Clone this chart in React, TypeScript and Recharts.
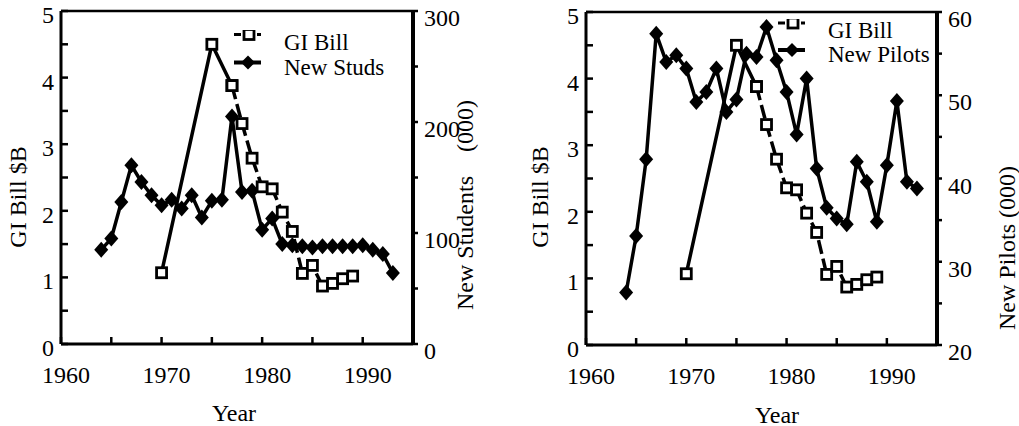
import { Legend, Line, LineChart, XAxis, YAxis } from 'recharts';

const FONT = "'Liberation Serif', 'Times New Roman', serif";

const years = [
  1964, 1965, 1966, 1967, 1968, 1969, 1970, 1971, 1972, 1973, 1974, 1975, 1976, 1977, 1978,
  1979, 1980, 1981, 1982, 1983, 1984, 1985, 1986, 1987, 1988, 1989, 1990, 1991, 1992, 1993,
];
// thousands
const newStuds = [
  85, 95, 128, 161, 146, 134, 125, 130, 122, 134, 114, 129, 130, 205, 137,
  138, 103, 113, 90, 89, 88, 87, 88, 88, 88, 88, 89, 85, 81, 64,
];
const newPilots = [
  26.3, 33.1, 42.3, 57.4, 54.0, 54.8, 53.2, 49.2, 50.4, 53.2, 48.0, 49.5, 55.0, 54.6, 58.2,
  54.2, 50.4, 45.3, 52.0, 41.2, 36.5, 35.2, 34.5, 42.0, 39.6, 34.8, 41.6, 49.3, 39.6, 38.8,
];
const giBillYears = [1970, 1975, 1977, 1978, 1979, 1980, 1981, 1982, 1983, 1984, 1985, 1986, 1987, 1988, 1989];
const giBill = [1.07, 4.5, 3.88, 3.31, 2.79, 2.36, 2.33, 1.98, 1.69, 1.06, 1.18, 0.87, 0.91, 0.98, 1.02];

const yearTicks = [1960, 1965, 1970, 1975, 1980, 1985, 1990];
const yearLabels = [1960, 1970, 1980, 1990];
const billTicks = [0, 0.5, 1, 1.5, 2, 2.5, 3, 3.5, 4, 4.5, 5];
const billLabels = [0, 1, 2, 3, 4, 5];
const studTicks = [0, 50, 100, 150, 200, 250, 300];
const studLabels = [0, 100, 200, 300];
const pilotTicks = [20, 25, 30, 35, 40, 45, 50, 55, 60];
const pilotLabels = [20, 30, 40, 50, 60];

// GI Bill is drawn solid up to 1977, dashed after
function buildRows(other: number[]) {
  return years.map((year, i) => {
    const j = giBillYears.indexOf(year);
    const bill = j >= 0 ? giBill[j] : null;
    return {
      year,
      other: other[i],
      billSolid: year <= 1977 ? bill : null,
      billDash: year >= 1977 ? bill : null,
    };
  });
}

const studRows = buildRows(newStuds);
const pilotRows = buildRows(newPilots);

const Square = (p: any) => {
  if (p.cx == null || p.cy == null || p.value == null) return null;
  return (
    <rect key={p.key} x={p.cx - 5} y={p.cy - 5} width={10} height={10}
      fill="#fff" stroke="#000" strokeWidth={2.8} />
  );
};

const Diamond = (p: any) => {
  if (p.cx == null || p.cy == null || p.value == null) return null;
  const { cx, cy } = p;
  return (
    <polygon key={p.key} fill="#000"
      points={`${cx},${cy - 8} ${cx + 7},${cy} ${cx},${cy + 8} ${cx - 7},${cy}`} />
  );
};

function tickFor(side: 'bottom' | 'left' | 'right', labels: number[]) {
  return (props: any) => {
    const { x, y, payload } = props;
    const v = payload.value;
    const show = labels.includes(v);
    const text = { style: { fontFamily: FONT, fontSize: 24 }, fill: '#000' };
    if (side === 'bottom') {
      return (
        <g>
          <line x1={x} y1={y} x2={x} y2={y - 7} stroke="#000" strokeWidth={2.5} />
          {show && <text x={x + 5} y={y + 39} textAnchor="middle" {...text}>{v}</text>}
        </g>
      );
    }
    if (side === 'left') {
      return (
        <g>
          <line x1={x} y1={y} x2={x + 7} y2={y} stroke="#000" strokeWidth={2.5} />
          {show && <text x={x - 7} y={y + 12} textAnchor="end" {...text}>{v}</text>}
        </g>
      );
    }
    return (
      <g>
        <line x1={x} y1={y} x2={x + 5} y2={y} stroke="#000" strokeWidth={2.5} />
        {show && <text x={x + 11} y={y + 15} textAnchor="start" {...text}>{v}</text>}
      </g>
    );
  };
}

function LegendBox({ second, rowH }: { second: string; rowH: number }) {
  const row = { display: 'flex', alignItems: 'center', height: rowH, whiteSpace: 'nowrap' as const };
  return (
    <div style={{ fontFamily: FONT, fontSize: 23, lineHeight: `${rowH}px`, color: '#000' }}>
      <div style={row}>
        <svg width={51} height={rowH}>
          <line x1={1} y1={rowH / 2 - 8} x2={8} y2={rowH / 2 - 8} stroke="#000" strokeWidth={3} />
          <rect x={11} y={rowH / 2 - 13} width={10} height={10} fill="#fff" stroke="#000" strokeWidth={2.8} />
          <line x1={24} y1={rowH / 2 - 8} x2={28} y2={rowH / 2 - 8} stroke="#000" strokeWidth={3} />
        </svg>
        <span>GI Bill</span>
      </div>
      <div style={row}>
        <svg width={51} height={rowH}>
          <line x1={1} y1={rowH / 2 - 5} x2={28} y2={rowH / 2 - 5} stroke="#000" strokeWidth={4} />
          <polygon points={`15,${rowH / 2 - 12} 22,${rowH / 2 - 5} 15,${rowH / 2 + 2} 8,${rowH / 2 - 5}`} fill="#000" />
        </svg>
        <span>{second}</span>
      </div>
    </div>
  );
}

const axisLine = { stroke: '#000', strokeWidth: 3 };

function Panel(props: {
  rows: any[];
  width: number;
  leftW: number;
  rightW: number;
  bottomH: number;
  top: number;
  rightDomain: number[];
  rightTicks: number[];
  rightLabels: number[];
  second: string;
  legendLeft: number;
  legendTop: number;
  rowH: number;
}) {
  const p = props;
  return (
    <LineChart width={p.width} height={426} data={p.rows}
      margin={{ top: p.top, right: 0, bottom: 0, left: 0 }}>
      <XAxis dataKey="year" type="number" domain={[1960, 1995]} ticks={yearTicks} interval={0}
        height={p.bottomH} tickSize={0} tickMargin={0} tickLine={false} axisLine={axisLine}
        tick={tickFor('bottom', yearLabels)} />
      <XAxis xAxisId="top" orientation="top" dataKey="year" type="number" domain={[1960, 1995]}
        height={1} tick={false} tickLine={false} axisLine={{ stroke: '#000', strokeWidth: 2.5 }} />
      <YAxis yAxisId="left" domain={[0, 5]} ticks={billTicks} interval={0} width={p.leftW}
        tickSize={0} tickMargin={0} tickLine={false} axisLine={axisLine}
        tick={tickFor('left', billLabels)} />
      <YAxis yAxisId="right" orientation="right" domain={p.rightDomain} ticks={p.rightTicks}
        interval={0} width={p.rightW} tickSize={0} tickMargin={0} tickLine={false}
        axisLine={{ stroke: '#000', strokeWidth: 4 }} tick={tickFor('right', p.rightLabels)} />
      <Legend layout="vertical" align="center" verticalAlign="middle"
        wrapperStyle={{ left: p.legendLeft, top: p.legendTop, width: 'auto' }}
        content={() => <LegendBox second={p.second} rowH={p.rowH} />} />
      <Line yAxisId="right" dataKey="other" stroke="#000" strokeWidth={3.5}
        dot={Diamond} activeDot={false} isAnimationActive={false} />
      <Line yAxisId="left" dataKey="billSolid" stroke="#000" strokeWidth={3.5} connectNulls
        dot={Square} activeDot={false} isAnimationActive={false} />
      <Line yAxisId="left" dataKey="billDash" stroke="#000" strokeWidth={3.5} strokeDasharray="14 5"
        dot={Square} activeDot={false} isAnimationActive={false} />
    </LineChart>
  );
}

function Title({ x, y, text, rotate }: { x: number; y: number; text: string; rotate?: boolean }) {
  return (
    <div style={{
      position: 'absolute', left: x, top: y, whiteSpace: 'pre', fontFamily: FONT, fontSize: 24,
      lineHeight: 1, color: '#000',
      transform: `translate(-50%, -50%)${rotate ? ' rotate(-90deg)' : ''}`,
    }}>{text}</div>
  );
}

export default function App() {
  return (
    <div style={{ position: 'absolute', left: 0, top: 0, width: 1019, height: 426, background: '#fff' }}>
      <div style={{ position: 'absolute', left: 0, top: 0 }}>
        <Panel rows={studRows} width={480} leftW={61} rightW={67} bottomH={82} top={10}
          rightDomain={[0, 300]} rightTicks={studTicks} rightLabels={studLabels}
          second="New Studs" legendLeft={233} legendTop={30} rowH={25} />
      </div>
      <div style={{ position: 'absolute', left: 520, top: 0 }}>
        <Panel rows={pilotRows} width={499} leftW={66} rightW={82} bottomH={81} top={11}
          rightDomain={[20, 60]} rightTicks={pilotTicks} rightLabels={pilotLabels}
          second="New Pilots" legendLeft={257} legendTop={19} rowH={24} />
      </div>
      <Title x={18} y={197} text="GI Bill $B" rotate />
      <Title x={465} y={205} text={'New Students    (000)'} rotate />
      <Title x={540} y={197} text="GI Bill $B" rotate />
      <Title x={1007} y={248} text="New Pilots (000)" rotate />
      <Title x={234} y={413} text="Year" />
      <Title x={777} y={415} text="Year" />
    </div>
  );
}
